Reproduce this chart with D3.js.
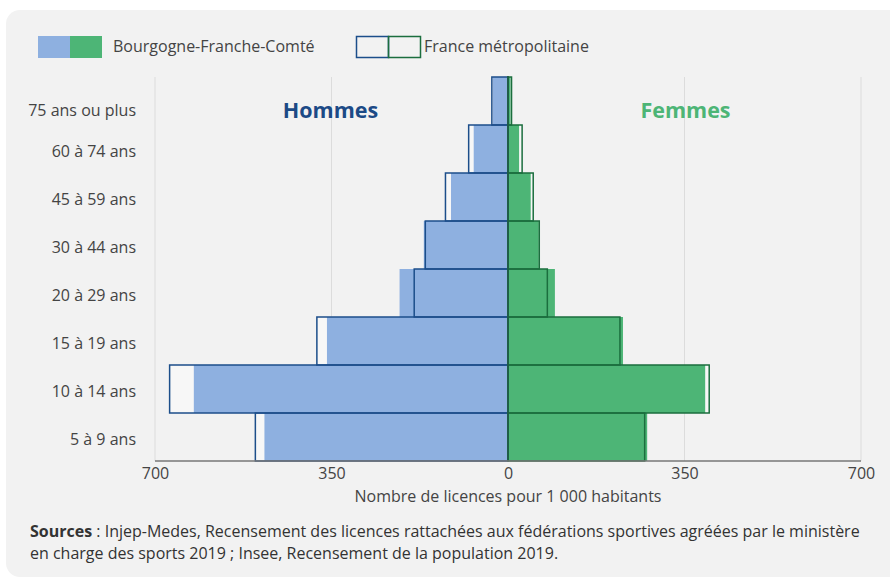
<!DOCTYPE html>
<html>
<head>
<meta charset="utf-8">
<script src="https://cdn.jsdelivr.net/npm/d3@7/dist/d3.min.js"></script>
<style>
  html, body { margin: 0; padding: 0; background: #ffffff; }
  svg { display: block; font-family: "Open Sans", "Noto Sans", sans-serif; }
</style>
</head>
<body>
<svg id="chart" width="890" height="579"></svg>
<script>
// ---- Data ----
const categories = ["75 ans ou plus", "60 à 74 ans", "45 à 59 ans", "30 à 44 ans",
                    "20 à 29 ans", "15 à 19 ans", "10 à 14 ans", "5 à 9 ans"];
const bfcMen      = [30, 68, 113, 167, 215, 359, 623, 483];
const franceMen   = [32, 78, 124, 164, 186, 379, 671, 501];
const bfcWomen    = [5, 22, 45, 61, 93, 228, 391, 276];
const franceWomen = [7, 28, 50, 62, 78, 222, 399, 271];
const leftTicks  = [700, 350];
const rightTicks = [0, 350, 700];
const seriesNames = ["Bourgogne-Franche-Comté", "France métropolitaine"];
const sideTitles = ["Hommes", "Femmes"];
const axisTitle = "Nombre de licences pour 1 000 habitants";

// ---- Layout ----
const cx = 508, halfW = 353, yTop = 77, yBottom = 461;
const colBlue = "#8eb0e0", colGreen = "#4db576";
const strokeBlue = "#1c4e8a", strokeGreen = "#1b6e3e";
const textCol = "#444444";
const fs = 16;

const svg = d3.select("#chart");

// card background
svg.append("rect").attr("x", 6).attr("y", 10).attr("width", 900).attr("height", 567)
  .attr("rx", 14).attr("fill", "#f2f2f2");

const xL = d3.scaleLinear().domain([0, 700]).range([cx, cx - halfW]);
const xR = d3.scaleLinear().domain([0, 700]).range([cx, cx + halfW]);
const y = d3.scaleBand().domain(categories).range([yTop, yBottom]).padding(0);

// gridlines
const grid = svg.append("g");
leftTicks.forEach(t => grid.append("line").attr("x1", xL(t)).attr("x2", xL(t))
  .attr("y1", yTop).attr("y2", yBottom).attr("stroke", "#dcdcdc").attr("stroke-width", 1));
rightTicks.filter(t => t > 0).forEach(t => grid.append("line").attr("x1", xR(t)).attr("x2", xR(t))
  .attr("y1", yTop).attr("y2", yBottom).attr("stroke", "#dcdcdc").attr("stroke-width", 1));

// side titles
svg.append("text").attr("x", xL(350) - 1).attr("y", 118).attr("text-anchor", "middle")
  .attr("font-size", 21.5).attr("font-weight", 700).attr("fill", "#1c4a86").text(sideTitles[0]);
svg.append("text").attr("x", xR(350) + 1).attr("y", 118).attr("text-anchor", "middle")
  .attr("font-size", 21.5).attr("font-weight", 700).attr("fill", colGreen).text(sideTitles[1]);

const rows = categories.map((c, i) => ({
  c, bm: bfcMen[i], fm: franceMen[i], bw: bfcWomen[i], fw: franceWomen[i]
}));

// France backgrounds (light)
svg.append("g").selectAll("rect").data(rows).join("rect")
  .attr("x", d => xL(d.fm)).attr("y", d => y(d.c))
  .attr("width", d => cx - xL(d.fm)).attr("height", y.bandwidth())
  .attr("fill", "#f7f7f7");
svg.append("g").selectAll("rect").data(rows).join("rect")
  .attr("x", cx).attr("y", d => y(d.c))
  .attr("width", d => xR(d.fw) - cx).attr("height", y.bandwidth())
  .attr("fill", "#f7f7f7");

// BFC fills
svg.append("g").selectAll("rect").data(rows).join("rect")
  .attr("x", d => xL(d.bm)).attr("y", d => y(d.c))
  .attr("width", d => cx - xL(d.bm)).attr("height", y.bandwidth())
  .attr("fill", colBlue);
svg.append("g").selectAll("rect").data(rows).join("rect")
  .attr("x", cx).attr("y", d => y(d.c))
  .attr("width", d => xR(d.bw) - cx).attr("height", y.bandwidth())
  .attr("fill", colGreen);

// France outlines
svg.append("g").selectAll("rect").data(rows).join("rect")
  .attr("x", d => xL(d.fm)).attr("y", d => y(d.c))
  .attr("width", d => cx - xL(d.fm)).attr("height", y.bandwidth())
  .attr("fill", "none").attr("stroke", strokeBlue).attr("stroke-width", 1.5);
svg.append("g").selectAll("rect").data(rows).join("rect")
  .attr("x", cx).attr("y", d => y(d.c))
  .attr("width", d => xR(d.fw) - cx).attr("height", y.bandwidth())
  .attr("fill", "none").attr("stroke", strokeGreen).attr("stroke-width", 1.5);

// center line
svg.append("line").attr("x1", cx).attr("x2", cx).attr("y1", yTop - 1).attr("y2", yBottom)
  .attr("stroke", "#1f5a45").attr("stroke-width", 1.5);

// bottom axis line
svg.append("line").attr("x1", xL(700)).attr("x2", xR(700)).attr("y1", yBottom).attr("y2", yBottom)
  .attr("stroke", "#777").attr("stroke-width", 1.5);

// x tick labels via axes
const axL = svg.append("g").attr("transform", `translate(0,${yBottom})`)
  .call(d3.axisBottom(xL).tickValues(leftTicks).tickSize(0).tickPadding(7).tickFormat(d3.format("d")));
const axR = svg.append("g").attr("transform", `translate(0,${yBottom})`)
  .call(d3.axisBottom(xR).tickValues(rightTicks).tickSize(0).tickPadding(7).tickFormat(d3.format("d")));
[axL, axR].forEach(a => {
  a.select(".domain").remove();
  a.selectAll("text").attr("font-size", fs).attr("fill", textCol)
    .attr("font-family", "'Open Sans', sans-serif");
});

// axis title
svg.append("text").attr("x", cx).attr("y", 502).attr("text-anchor", "middle")
  .attr("font-size", fs).attr("fill", textCol).text(axisTitle);

// y labels
svg.append("g").selectAll("text").data(categories).join("text")
  .attr("x", 136).attr("y", (d, i) => y(d) + y.bandwidth() / 2 + (i === 0 ? 15 : 7.5))
  .attr("text-anchor", "end").attr("font-size", fs).attr("fill", textCol).text(d => d);

// legend
const lg = svg.append("g");
lg.append("rect").attr("x", 38).attr("y", 36).attr("width", 32).attr("height", 22).attr("fill", colBlue);
lg.append("rect").attr("x", 70).attr("y", 36).attr("width", 32).attr("height", 22).attr("fill", colGreen);
lg.append("text").attr("x", 113).attr("y", 52).attr("font-size", fs).attr("fill", textCol).text(seriesNames[0]);
lg.append("rect").attr("x", 356.5).attr("y", 36.5).attr("width", 32).attr("height", 21)
  .attr("fill", "none").attr("stroke", strokeBlue).attr("stroke-width", 1.5);
lg.append("rect").attr("x", 388.5).attr("y", 36.5).attr("width", 32).attr("height", 21)
  .attr("fill", "none").attr("stroke", strokeGreen).attr("stroke-width", 1.5);
lg.append("text").attr("x", 424).attr("y", 52).attr("font-size", fs).attr("fill", textCol).text(seriesNames[1]);

// sources
const src = svg.append("text").attr("x", 30).attr("y", 537).attr("font-size", fs).attr("fill", "#333");
src.append("tspan").attr("font-weight", 700).text("Sources");
src.append("tspan").text(" : Injep-Medes, Recensement des licences rattachées aux fédérations sportives agréées par le ministère");
svg.append("text").attr("x", 30).attr("y", 559).attr("font-size", fs).attr("fill", "#333")
  .text("en charge des sports 2019 ; Insee, Recensement de la population 2019.");
</script>
</body>
</html>
